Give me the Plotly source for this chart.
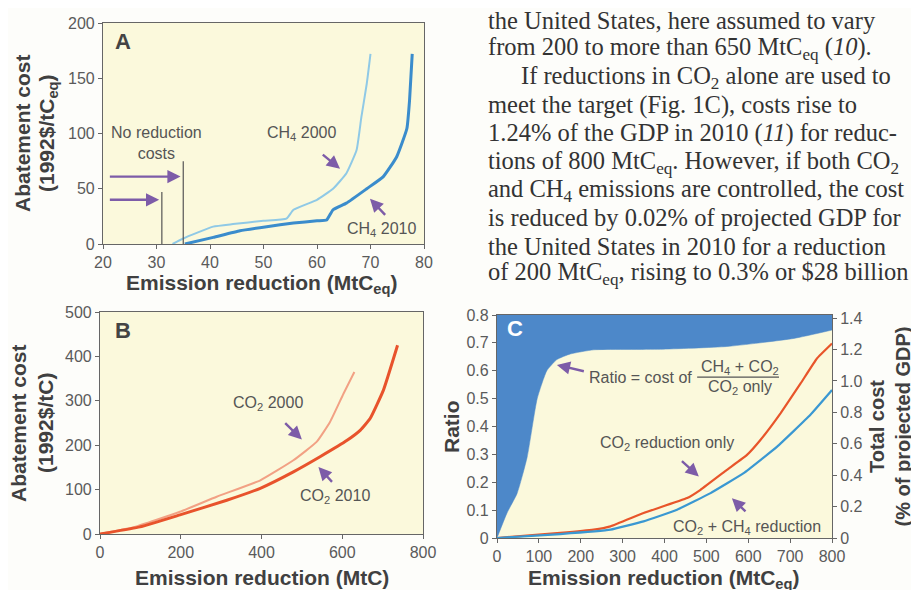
import plotly.graph_objects as go

# ---------------- Data ----------------
# Panel A: CH4 abatement cost curves (MtCeq vs 1992$/tCeq)
ch4_2000_x = [33, 35, 40.6, 44.3, 50, 54.3, 55.6, 60, 63, 65.5, 67.4, 68.3, 69.3, 70]
ch4_2000_y = [0, 5, 15.7, 18, 21, 23, 31, 40, 50, 64, 85, 115, 145, 172]
ch4_2010_x = [35.3, 40.6, 45.6, 50.6, 55.6, 60, 61.8, 63, 65.5, 69.3, 72.4, 74.9, 76.8, 77.3, 77.8]
ch4_2010_y = [0, 6, 12, 15.7, 19, 21, 21.7, 31, 37, 50, 61, 79, 104.5, 130, 172]
no_cost_x = [31, 35]
no_cost_top = [47, 75]

# Panel B: CO2 abatement cost curves (MtC vs 1992$/tC)
co2_2000_x = [0, 83, 198, 289, 397, 479, 537, 570, 603, 630]
co2_2000_y = [0, 15, 50, 84, 121, 166, 208, 253, 316, 365]
co2_2010_x = [0, 99, 198, 314, 397, 479, 545, 612, 645, 669, 702, 737]
co2_2010_y = [0, 16, 43, 76, 103, 140, 174, 211, 234, 260, 324, 425]

# Panel C: ratio (left axis) and total cost (% of GDP, right axis)
ratio_x = [0, 24, 48, 72, 96, 119, 143, 175, 231, 390, 549, 709, 800]
ratio_y = [0, 0.09, 0.16, 0.29, 0.50, 0.60, 0.64, 0.66, 0.675, 0.677, 0.687, 0.716, 0.746]
ratio_top = [0.8] * len(ratio_x)
co2_only_x = [0, 151, 231, 271, 350, 454, 486, 549, 597, 629, 677, 725, 764, 800]
co2_only_y = [0, 0.032, 0.053, 0.074, 0.159, 0.254, 0.307, 0.434, 0.529, 0.624, 0.794, 0.984, 1.143, 1.238]
co2_ch4_x = [0, 151, 271, 350, 430, 510, 589, 669, 748, 800]
co2_ch4_y = [0, 0.025, 0.053, 0.106, 0.18, 0.286, 0.413, 0.582, 0.783, 0.942]

ratio_ticks = [0, 0.1, 0.2, 0.3, 0.4, 0.5, 0.6, 0.7, 0.8]
ratio_ticktext = ["0", "0.1", "0.2", "0.3", "0.4", "0.5", "0.6", "0.7", "0.8"]
gdp_ticks = [0, 0.2, 0.4, 0.6, 0.8, 1.0, 1.2, 1.4]
gdp_ticktext = ["0", "0.2", "0.4", "0.6", "0.8", "1.0", "1.2", "1.4"]

text_lines = [
    "the United States, here assumed to vary",
    "from 200 to more than 650 MtC<sub>eq</sub> (<i>10</i>).",
    "If reductions in CO<sub>2</sub> alone are used to",
    "meet the target (Fig. 1C), costs rise to",
    "1.24% of the GDP in 2010 (<i>11</i>) for reduc-",
    "tions of 800 MtC<sub>eq</sub>. However, if both CO<sub>2</sub>",
    "and CH<sub>4</sub> emissions are controlled, the cost",
    "is reduced by 0.02% of projected GDP for",
    "the United States in 2010 for a reduction",
    "of 200 MtC<sub>eq</sub>, rising to 0.3% or $28 billion",
]

# ---------------- Styles ----------------
W, H = 919, 590
OFF = 8  # page body margin offset
SANS = "Liberation Sans, Arial, sans-serif"
SERIF = "Liberation Serif, Times New Roman, serif"
TICK = dict(family=SANS, size=16, color="#5a5a5a")
TITLE = dict(family=SANS, size=21, color="#404040")
RTITLE = dict(family=SANS, size=20, color="#404040")
LABEL = dict(family=SANS, size=16, color="#555555")
ARROW = "#7d5ca8"
BG = "#fbf9dc"


def px(x):
    return (x - OFF) / W


def py(y):
    return 1 - (y - OFF) / H


fig = go.Figure()

# Panel A
fig.add_trace(go.Scatter(x=ch4_2000_x, y=ch4_2000_y, mode="lines", xaxis="x", yaxis="y",
                         line=dict(color="#8fc9e6", width=2, shape="spline", smoothing=0.4)))
fig.add_trace(go.Scatter(x=ch4_2010_x, y=ch4_2010_y, mode="lines", xaxis="x", yaxis="y",
                         line=dict(color="#3a8ccc", width=3, shape="spline", smoothing=0.4)))
for xv, top in zip(no_cost_x, no_cost_top):
    fig.add_trace(go.Scatter(x=[xv, xv], y=[0, top], mode="lines", xaxis="x", yaxis="y",
                             line=dict(color="#555555", width=1.2)))

# Panel B
fig.add_trace(go.Scatter(x=co2_2000_x, y=co2_2000_y, mode="lines", xaxis="x2", yaxis="y2",
                         line=dict(color="#f2a184", width=2, shape="spline", smoothing=0.4)))
fig.add_trace(go.Scatter(x=co2_2010_x, y=co2_2010_y, mode="lines", xaxis="x2", yaxis="y2",
                         line=dict(color="#e8532c", width=3, shape="spline", smoothing=0.4)))

# Panel C
fig.add_trace(go.Scatter(x=ratio_x, y=ratio_top, mode="lines", xaxis="x3", yaxis="y3",
                         line=dict(width=0, color="#4d88c9")))
fig.add_trace(go.Scatter(x=ratio_x, y=ratio_y, mode="lines", xaxis="x3", yaxis="y3",
                         fill="tonexty", fillcolor="#4d88c9",
                         line=dict(width=0.5, color="#4d88c9", shape="spline", smoothing=0.5)))
fig.add_trace(go.Scatter(x=co2_only_x, y=co2_only_y, mode="lines", xaxis="x3", yaxis="y4",
                         line=dict(color="#e8552a", width=2.2, shape="spline", smoothing=0.3)))
fig.add_trace(go.Scatter(x=co2_ch4_x, y=co2_ch4_y, mode="lines", xaxis="x3", yaxis="y4",
                         line=dict(color="#3a98d2", width=2.2, shape="spline", smoothing=0.3)))

axis_common = dict(showline=True, linecolor="#666666", linewidth=1.2, mirror=True,
                   ticks="outside", ticklen=4, tickcolor="#666666", showgrid=False,
                   zeroline=False, tickfont=TICK, automargin=False)

fig.update_layout(
    template="none",
    width=W, height=H, margin=dict(l=0, r=0, t=0, b=0, pad=0, autoexpand=False),
    paper_bgcolor="#fdfdfa", plot_bgcolor=BG, showlegend=False,
    xaxis=dict(domain=[px(103), px(424)], anchor="y", range=[20, 80], dtick=10, **axis_common),
    yaxis=dict(domain=[py(244), py(23)], anchor="x", range=[0, 200], dtick=50, **axis_common),
    xaxis2=dict(domain=[px(100), px(423)], anchor="y2", range=[0, 800], dtick=200, **axis_common),
    yaxis2=dict(domain=[py(534), py(312)], anchor="x2", range=[0, 500], dtick=100, **axis_common),
    xaxis3=dict(domain=[px(497), px(832)], anchor="y3", range=[0, 800], dtick=100, **axis_common),
    yaxis3=dict(domain=[py(538), py(315)], anchor="x3", range=[0, 0.8],
                tickvals=ratio_ticks, ticktext=ratio_ticktext, **axis_common),
    yaxis4=dict(overlaying="y3", anchor="x3", side="right", range=[0, 1.42],
                tickvals=gdp_ticks, ticktext=gdp_ticktext, showline=False,
                ticks="outside", ticklen=4, tickcolor="#666666", showgrid=False,
                zeroline=False, tickfont=TICK, automargin=False,
                title=dict(text="<b>Total cost<br>(% of projected GDP)</b>", font=RTITLE,
                           standoff=8)),
)

ann = []


def text(x, y, s, xref, yref, font, **kw):
    kw.setdefault("xanchor", "center")
    kw.setdefault("yanchor", "middle")
    ann.append(dict(x=x, y=y, text=s, xref=xref, yref=yref, showarrow=False, font=font, **kw))


def arrow(x, y, ax, ay, xref, yref):
    ann.append(dict(x=x, y=y, ax=ax, ay=ay, xref=xref, yref=yref, axref=xref, ayref=yref,
                    text="", showarrow=True, arrowhead=2, arrowsize=1.1, arrowwidth=2.4,
                    arrowcolor=ARROW))


# Panel A text
text(23.7, 183, "<b>A</b>", "x", "y", dict(family=SANS, size=22, color="#444444"))
text(30, 91, "No reduction<br>costs", "x", "y", LABEL)
text(57.1, 100, "CH<sub>4</sub> 2000", "x", "y", LABEL)
text(72.1, 13, "CH<sub>4</sub> 2010", "x", "y", LABEL)
arrow(30.5, 40, 21, 40, "x", "y")
arrow(34.5, 61, 21, 61, "x", "y")
arrow(64.3, 68, 60.8, 82, "x", "y")
arrow(69.9, 41, 73, 25, "x", "y")

# Panel B text
text(58, 459, "<b>B</b>", "x2", "y2", dict(family=SANS, size=22, color="#444444"))
text(417, 295, "CO<sub>2</sub> 2000", "x2", "y2", LABEL)
text(583, 84, "CO<sub>2</sub> 2010", "x2", "y2", LABEL)
arrow(500, 213, 455, 253, "x2", "y2")
arrow(541, 151, 578, 114, "x2", "y2")

# Panel C text
text(44, 0.752, "<b>C</b>", "x3", "y3", dict(family=SANS, size=22, color="#ffffff"))
text(342, 0.577, "Ratio = cost of", "x3", "y3", LABEL)
text(581, 0.613, "CH<sub>4</sub> + CO<sub>2</sub>", "x3", "y3", LABEL)
text(581, 0.539, "CO<sub>2</sub> only", "x3", "y3", LABEL)
ann.append(dict(x=478, y=0.577, ax=677, ay=0.577, xref="x3", yref="y3", axref="x3", ayref="y3",
                text="", showarrow=True, arrowhead=0, arrowwidth=1.2, arrowcolor="#555555"))
arrow(143, 0.621, 211, 0.597, "x3", "y3")
text(406, 0.338, "CO<sub>2</sub> reduction only", "x3", "y3", LABEL)
arrow(482, 0.221, 438, 0.281, "x3", "y3")
text(598, 0.036, "CO<sub>2</sub> + CH<sub>4</sub> reduction", "x3", "y3", LABEL)
arrow(561, 0.143, 597, 0.09, "x3", "y3")

# Axis titles
text(px(262), py(284), "<b>Emission reduction (MtC<sub>eq</sub>)</b>", "paper", "paper", TITLE)
text(px(262), py(577), "<b>Emission reduction (MtC)</b>", "paper", "paper", TITLE)
text(px(664), py(578.5), "<b>Emission reduction (MtC<sub>eq</sub>)</b>", "paper", "paper", TITLE)
text(px(22), py(133), "<b>Abatement cost</b>", "paper", "paper", TITLE, textangle=-90)
text(px(48), py(133), "<b>(1992$/tC<sub>eq</sub>)</b>", "paper", "paper", TITLE, textangle=-90)
text(px(18), py(423), "<b>Abatement cost</b>", "paper", "paper", TITLE, textangle=-90)
text(px(45), py(423), "<b>(1992$/tC)</b>", "paper", "paper", TITLE, textangle=-90)
text(px(451), py(427), "<b>Ratio</b>", "paper", "paper", TITLE, textangle=-90)

# Body text column
line_y = [20, 48, 77, 105, 133, 162, 190, 218, 247, 273]
for i, (s, yv) in enumerate(zip(text_lines, line_y)):
    x0 = 519 if i == 2 else 486
    text(px(x0), py(yv), s, "paper", "paper", dict(family=SERIF, size=24.5, color="#333333"),
         xanchor="left")

fig.update_layout(annotations=ann)
fig.write_html("out.html")
